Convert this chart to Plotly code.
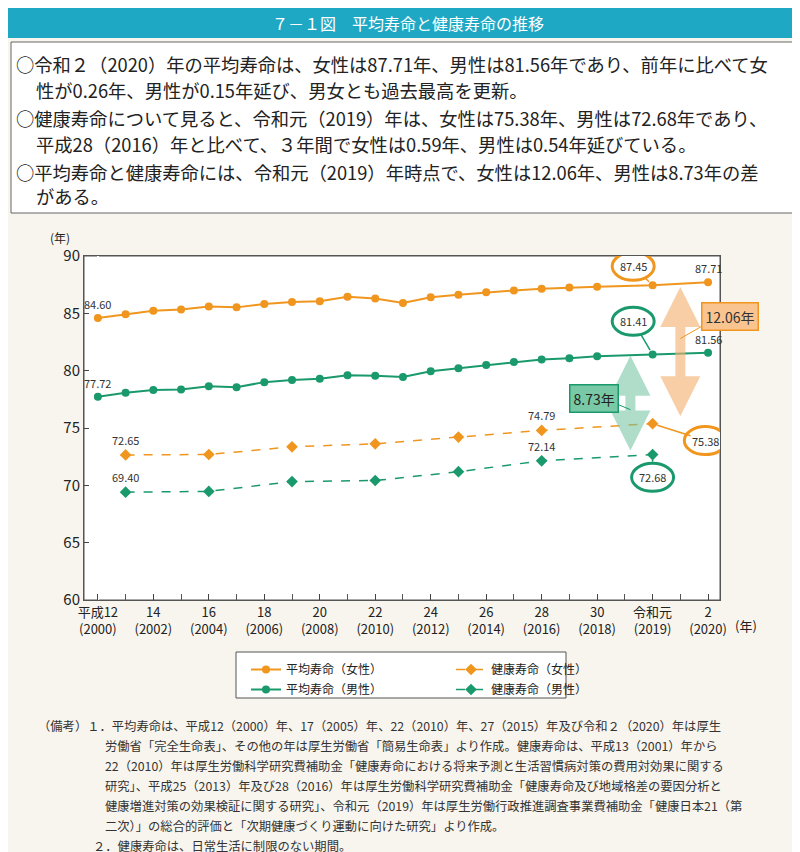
import plotly.graph_objects as go

years = list(range(2000, 2021))
# horizontal axis slot of each year, as laid out in the reference (令和元 and 2 are spaced two slots apart)
slot = {y: i for i, y in enumerate(range(2000, 2019))}
slot.update({2019: 20, 2020: 22})
le_f = [84.60, 84.93, 85.23, 85.33, 85.59, 85.52, 85.81, 85.99, 86.05, 86.44, 86.30,
        85.90, 86.41, 86.61, 86.83, 86.99, 87.14, 87.26, 87.32, 87.45, 87.71]
le_m = [77.72, 78.07, 78.32, 78.36, 78.64, 78.56, 79.00, 79.19, 79.29, 79.59, 79.55,
        79.44, 79.94, 80.21, 80.50, 80.75, 80.98, 81.09, 81.25, 81.41, 81.56]
hy = [2001, 2004, 2007, 2010, 2013, 2016, 2019]
he_f = [72.65, 72.69, 73.36, 73.62, 74.21, 74.79, 75.38]
he_m = [69.40, 69.47, 70.33, 70.42, 71.19, 72.14, 72.68]
tick_top = ["平成12", "14", "16", "18", "20", "22", "24", "26", "28", "30", "令和元", "2"]
tick_bot = ["(2000)", "(2002)", "(2004)", "(2006)", "(2008)", "(2010)", "(2012)", "(2014)",
            "(2016)", "(2018)", "(2019)", "(2020)"]
tick_years = [2000, 2002, 2004, 2006, 2008, 2010, 2012, 2014, 2016, 2018, 2019, 2020]

xs = [slot[y] for y in years]
hxs = [slot[y] for y in hy]

OR = "#f0961e"
GR = "#1a9a6c"
FONT = "Noto Sans CJK JP"

L, R, T, B = 76, 712, 248, 592
def px(x): return (x - L) / (R - L)
def py(y): return (B - y) / (B - T)

fig = go.Figure()
fig.add_trace(go.Scatter(x=xs, y=le_f, mode="lines+markers", name="平均寿命（女性）",
                         line=dict(color=OR, width=2), marker=dict(size=8), legend="legend"))
fig.add_trace(go.Scatter(x=hxs, y=he_f, mode="lines+markers", name="健康寿命（女性）",
                         line=dict(color=OR, width=1.5, dash="dash"),
                         marker=dict(size=9, symbol="diamond"), legend="legend"))
fig.add_trace(go.Scatter(x=xs, y=le_m, mode="lines+markers", name="平均寿命（男性）",
                         line=dict(color=GR, width=2), marker=dict(size=8), legend="legend2"))
fig.add_trace(go.Scatter(x=hxs, y=he_m, mode="lines+markers", name="健康寿命（男性）",
                         line=dict(color=GR, width=1.5, dash="dash"),
                         marker=dict(size=9, symbol="diamond"), legend="legend2"))

ann = []
shapes = []
def ptext(x, y, t, size, color="#222", xa="left"):
    ann.append(dict(xref="paper", yref="paper", x=px(x), y=py(y), text=t, xanchor=xa, yanchor="middle",
                    showarrow=False, font=dict(size=size, family=FONT, color=color)))

shapes.append(dict(type="rect", xref="paper", yref="paper", x0=px(0), x1=px(800), y0=py(0), y1=py(30),
                   fillcolor="#1fa8c4", line_width=0, layer="below"))
ptext(400, 15, "７－１図　平均寿命と健康寿命の推移", 16, "white", "center")
shapes.append(dict(type="rect", xref="paper", yref="paper", x0=px(3), x1=px(797), y0=py(34), y1=py(205),
                   fillcolor="white", line=dict(color="#666", width=1), layer="below"))
summary = [
    (6, 56, "○令和２（2020）年の平均寿命は、女性は87.71年、男性は81.56年であり、前年に比べて女"),
    (26, 82, "性が0.26年、男性が0.15年延び、男女とも過去最高を更新。"),
    (6, 110, "○健康寿命について見ると、令和元（2019）年は、女性は75.38年、男性は72.68年であり、"),
    (26, 136, "平成28（2016）年と比べて、３年間で女性は0.59年、男性は0.54年延びている。"),
    (6, 164, "○平均寿命と健康寿命には、令和元（2019）年時点で、女性は12.06年、男性は8.73年の差"),
    (26, 188, "がある。"),
]
for x, y, t in summary:
    ptext(x, y, t, 18.3)

shapes.append(dict(type="rect", xref="paper", yref="paper", x0=0, x1=1, y0=0, y1=1,
                   fillcolor="white", line=dict(color="#555", width=1), layer="below"))
ptext(52, 230, "(年)", 12, xa="center")
ptext(738, 617, "(年)", 13, xa="center")

for x, y in [(2000, le_f[0]), (2020, le_f[-1]), (2000, le_m[0]), (2020, le_m[-1])]:
    ann.append(dict(x=slot[x], y=y, text=f"{y:.2f}", showarrow=False, yshift=14,
                    font=dict(size=11, family=FONT, color="#333")))
for x, y in [(hy[0], he_f[0]), (hy[5], he_f[5]), (hy[0], he_m[0]), (hy[5], he_m[5])]:
    ann.append(dict(x=slot[x], y=y, text=f"{y:.2f}", showarrow=False, yshift=15,
                    font=dict(size=11, family=FONT, color="#333")))

circ = [(19.3, 89.1, le_f[-2], OR), (19.3, 84.3, le_m[-2], GR),
        (21.9, 73.9, he_f[-1], OR), (20.0, 70.7, he_m[-1], GR)]
for cx, cy, v, c in circ:
    ann.append(dict(x=slot[2019], y=v, ax=cx, ay=cy, axref="x", ayref="y", text="", showarrow=True,
                    arrowhead=0, arrowcolor=c, arrowwidth=1.5, standoff=5, startstandoff=14))
    shapes.append(dict(type="circle", xref="x", yref="y", xsizemode="pixel", ysizemode="pixel",
                       xanchor=cx, yanchor=cy, x0=-21, x1=21, y0=-14, y1=14,
                       fillcolor="white", line=dict(color=c, width=3)))
    ann.append(dict(x=cx, y=cy, text=f"{v:.2f}", showarrow=False,
                    font=dict(size=11, family=FONT, color="#333")))

ann.append(dict(x=21, y=87.3, ax=21, ay=75.9, axref="x", ayref="y", text="", showarrow=True,
                arrowhead=2, arrowside="end+start", arrowsize=0.8, arrowwidth=10,
                arrowcolor="rgba(245,175,110,0.6)"))
ann.append(dict(x=19.2, y=81.3, ax=19.2, ay=72.9, axref="x", ayref="y", text="", showarrow=True,
                arrowhead=2, arrowside="end+start", arrowsize=0.8, arrowwidth=10,
                arrowcolor="rgba(110,195,160,0.55)"))
ann.append(dict(x=21, y=82.8, ax=22.3, ay=84.6, axref="x", ayref="y", text="", showarrow=True,
                arrowhead=0, arrowcolor=OR, arrowwidth=1))
ptext(722, 308, "12.06年", 14, "#333", "center")
ann[-1].update(bgcolor="#f9c48f", bordercolor=OR, borderwidth=1.5, borderpad=3)
ann.append(dict(x=19.2, y=76.6, ax=18.3, ay=77.5, axref="x", ayref="y", text="", showarrow=True,
                arrowhead=0, arrowcolor=GR, arrowwidth=1))
ann.append(dict(x=17.9, y=77.6, text="8.73年", showarrow=False, bgcolor="#79c9a6",
                bordercolor=GR, borderwidth=1.5, borderpad=3, font=dict(size=14, family=FONT, color="#222")))

shapes.append(dict(type="rect", xref="paper", yref="paper", x0=px(228), x1=px(558), y0=py(644), y1=py(690),
                   fillcolor="white", line=dict(color="#555", width=1), layer="below"))
notes = [
    (28, 718, "（備考）１．平均寿命は、平成12（2000）年、17（2005）年、22（2010）年、27（2015）年及び令和２（2020）年は厚生"),
    (95, 738, "労働省「完全生命表」、その他の年は厚生労働省「簡易生命表」より作成。健康寿命は、平成13（2001）年から"),
    (95, 758, "22（2010）年は厚生労働科学研究費補助金「健康寿命における将来予測と生活習慣病対策の費用対効果に関する"),
    (95, 778, "研究」、平成25（2013）年及び28（2016）年は厚生労働科学研究費補助金「健康寿命及び地域格差の要因分析と"),
    (95, 798, "健康増進対策の効果検証に関する研究」、令和元（2019）年は厚生労働行政推進調査事業費補助金「健康日本21（第"),
    (95, 818, "二次）」の総合的評価と「次期健康づくり運動に向けた研究」より作成。"),
    (83, 838, "２．健康寿命は、日常生活に制限のない期間。"),
]
for x, y, t in notes:
    ptext(x, y, t, 12.3, "#333")

fig.update_layout(
    width=800, height=852, margin=dict(l=L, r=800 - R, t=T, b=852 - B, autoexpand=False),
    paper_bgcolor="#f8f5ee", plot_bgcolor="white",
    font=dict(family=FONT, size=13, color="#222"),
    annotations=ann, shapes=shapes,
    legend=dict(orientation="h", x=px(238), y=py(647), xanchor="left", yanchor="top",
                entrywidth=160, bgcolor="rgba(0,0,0,0)", font=dict(size=12)),
    legend2=dict(orientation="h", x=px(238), y=py(667), xanchor="left", yanchor="top",
                 entrywidth=160, bgcolor="rgba(0,0,0,0)", font=dict(size=12)),
)
fig.update_xaxes(range=[-0.5, 22.43], tickvals=[slot[y] for y in tick_years],
                 ticktext=[f"{a}<br>{b}" for a, b in zip(tick_top, tick_bot)], tickangle=0,
                 ticks="inside", ticklen=6, showgrid=False, showline=True, linecolor="#555",
                 mirror=True, tickfont=dict(size=13), automargin=False,
                 minor=dict(tickvals=list(range(23)), ticks="inside", ticklen=6, tickcolor="#555"))
fig.update_yaxes(range=[60, 90], dtick=5, ticks="inside", ticklen=5, showgrid=False, showline=True,
                 linecolor="#555", mirror=True, tickfont=dict(size=15), zeroline=False, automargin=False)
fig.write_html("out.html")
